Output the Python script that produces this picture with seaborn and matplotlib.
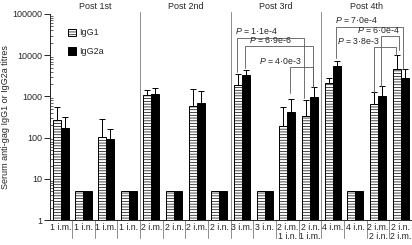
import numpy as np
import pandas as pd
import seaborn as sns
import matplotlib.pyplot as plt
from matplotlib.patches import Patch
from matplotlib.ticker import FixedLocator, FixedFormatter, LogLocator, NullFormatter

nan = np.nan

# group labels along the x axis, four per immunisation round
groups = ['1 i.m.', '1 i.n.', '1 i.m.', '1 i.n.',
          '2 i.m.', '2 i.n.', '2 i.m.', '2 i.n.',
          '3 i.m.', '3 i.n.', '2 i.m.\n1 i.n.', '2 i.n.\n1 i.m.',
          '4 i.m.', '4 i.n.', '2 i.m.\n2 i.n.', '2 i.n.\n2 i.m.']
sections = ['Post 1st', 'Post 2nd', 'Post 3rd', 'Post 4th']

igg1 = [270, 5, 105, 5, 1080, 5, 585, 5, 1890, 5, 194, 330, 2150, 5, 655, 4550]
igg1_top = [560, nan, 278, nan, 1430, nan, 1540, nan, 3550, nan, 560, 820, 2860, nan, 1250, 9900]
igg2a = [168, 5, 94, 5, 1120, 5, 705, 5, 3250, 5, 410, 950, 5560, 5, 1010, 2750]
igg2a_top = [322, nan, 158, nan, 1630, nan, 1350, nan, 4300, nan, 880, 1730, 7240, nan, 1790, 4550]

# significance brackets
p_labels = ['1·1e-4', '6·9e-6', '4·0e-3', '7·0e-4', '6·0e-4', '3·8e-3']
p_x1 = [7.78, 8.15, 10.12, 12.13, 14.13, 13.84]
p_x2 = [10.74, 11.15, 11.15, 15.09, 14.94, 14.79]
p_line = [26600, 16300, 5080, 49200, 29200, 15400]
p_end1 = [3980, 4970, 1190, 8410, 1790, 1300]
p_end2 = [915, 1720, 1720, 4810, 13400, 10100]
p_text_x = [8.62, 9.27, 9.71, 13.04, 14.0, 13.15]

sns.set_style('ticks')
plt.rcParams['font.family'] = ['Liberation Sans', 'DejaVu Sans']
plt.rcParams['mathtext.fontset'] = 'custom'
plt.rcParams['mathtext.rm'] = 'Liberation Sans'
plt.rcParams['mathtext.it'] = 'Liberation Sans:italic'
plt.rcParams['hatch.linewidth'] = 0.5

df = pd.DataFrame({
    'group': list(range(len(groups))) * 2,
    'antibody': ['IgG1'] * len(groups) + ['IgG2a'] * len(groups),
    'titre': igg1 + igg2a,
})

fig = plt.figure(figsize=(4.12, 2.45), dpi=100)
ax = fig.add_axes([49.5 / 412, 25 / 245, 362.5 / 412, 206 / 245])

sns.barplot(data=df, x='group', y='titre', hue='antibody', ax=ax,
            palette={'IgG1': 'white', 'IgG2a': 'black'}, edgecolor='black',
            linewidth=0.7, width=0.71, errorbar=None, legend=False)
ax.set_yscale('log')

for bar in ax.containers[0]:
    bar.set_hatch('------')

# one-sided error bars from bar centres
for cont, vals, tops in [(ax.containers[0], igg1, igg1_top), (ax.containers[1], igg2a, igg2a_top)]:
    xs = np.array([b.get_x() + b.get_width() / 2 for b in cont])
    v = np.array(vals, dtype=float)
    t = np.array(tops, dtype=float)
    m = ~np.isnan(t)
    ax.errorbar(xs[m], v[m], yerr=[np.zeros(m.sum()), t[m] - v[m]], fmt='none',
                ecolor='black', elinewidth=0.7, capsize=2.4, capthick=0.7)

ax.set_xlim(-0.5, 15.5)
ax.set_ylim(1, 100000)
ax.yaxis.set_major_locator(FixedLocator([1, 10, 100, 1000, 10000, 100000]))
ax.yaxis.set_major_formatter(FixedFormatter(['1', '10', '100', '1000', '10000', '100000']))
ax.yaxis.set_minor_locator(LogLocator(base=10, subs=np.arange(2, 10)))
ax.yaxis.set_minor_formatter(NullFormatter())
ax.tick_params(axis='y', which='major', labelsize=6.5, length=4, width=0.7, pad=1, direction='out')
ax.tick_params(axis='y', which='minor', length=2, width=0.5, direction='in')
ax.set_xticks(range(len(groups)))
ax.set_xticklabels(groups, fontsize=6.3, linespacing=1.0)
ax.tick_params(axis='x', length=0, pad=2)
ax.set_xlabel('')
ax.set_ylabel('Serum anti-gag IgG1 or IgG2a titres', fontsize=6.5, labelpad=2)
for s in ['top', 'right']:
    ax.spines[s].set_visible(False)
for s in ['left', 'bottom']:
    ax.spines[s].set_linewidth(0.7)

trans = ax.get_xaxis_transform()
for k in range(1, len(groups)):
    top = 1.01 if k % 4 == 0 else 0
    ax.plot([k - 0.5, k - 0.5], [top, -0.087], transform=trans, color='0.55', lw=0.7,
            clip_on=False, zorder=0)
for i, name in enumerate(sections):
    ax.text(4 * i + 1.5, 1.034, name, transform=trans, ha='center', va='center', fontsize=6.5)

for lab, x1, x2, yl, e1, e2, tx in zip(p_labels, p_x1, p_x2, p_line, p_end1, p_end2, p_text_x):
    ax.plot([x1, x1, x2, x2], [e1, yl, yl, e2], color='0.35', lw=0.6, clip_on=False)
    ax.text(tx, yl * 1.08, r'$P$ = ' + lab, ha='center', va='bottom', fontsize=6.3)

handles = [Patch(facecolor='white', edgecolor='black', hatch='------', lw=0.7, label='IgG1'),
           Patch(facecolor='black', edgecolor='black', lw=0.7, label='IgG2a')]
ax.legend(handles=handles, loc='upper left', bbox_to_anchor=(0.05, 0.93), frameon=False,
          fontsize=6.5, handlelength=0.9, handleheight=0.9, handletextpad=0.4,
          labelspacing=1.1, borderpad=0, borderaxespad=0)

fig.savefig('out.png', dpi=100)
